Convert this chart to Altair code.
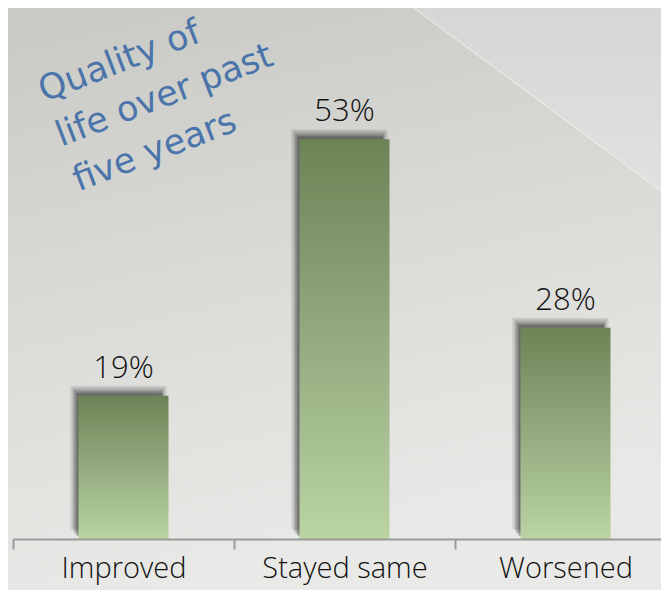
import altair as alt
import pandas as pd

# ---- data ----
CATEGORIES = ["Improved", "Stayed same", "Worsened"]
VALUES = [19, 53, 28]
LABELS = ["19%", "53%", "28%"]
TITLE_LINES = ["Quality of", "life over past", "five years"]

# decorative background triangle (plot pixel coords)
TRI_X = [401, 648]
TRI_Y = [0, 183]
TRI_Y2 = [0, 0]

W, H = 648, 531
STEP = 221

bars_df = pd.DataFrame({"cat": CATEGORIES, "val": VALUES, "lab": LABELS})
tri_df = pd.DataFrame({"x": TRI_X, "y": TRI_Y, "y2": TRI_Y2})
one = pd.DataFrame({"a": [0]})

FONT = "Open Sans"

bg = alt.Chart(one).mark_rect(
    fill=alt.Gradient(
        gradient="linear",
        stops=[
            alt.GradientStop(color="#c8c8c4", offset=0),
            alt.GradientStop(color="#d8d8d5", offset=0.45),
            alt.GradientStop(color="#e9e9e7", offset=1),
        ],
        x1=0, y1=0, x2=0.25, y2=1,
    )
).encode(x=alt.value(-5), x2=alt.value(W), y=alt.value(0), y2=alt.value(H + 51))

tri = alt.Chart(tri_df).mark_area(
    fill=alt.Gradient(
        gradient="linear",
        stops=[
            alt.GradientStop(color="#d6d6d6", offset=0),
            alt.GradientStop(color="#e1e1e1", offset=1),
        ],
        x1=0, y1=0, x2=0, y2=1,
    )
).encode(
    x=alt.X("x:Q", scale=alt.Scale(domain=[0, W], nice=False, zero=False), axis=None),
    y=alt.Y("y:Q", scale=alt.Scale(domain=[0, H], reverse=True, nice=False), axis=None),
    y2="y2:Q",
)
tri_line = alt.Chart(tri_df).mark_line(color="#f2f2e4", strokeWidth=1).encode(
    x=alt.X("x:Q", scale=alt.Scale(domain=[0, W], nice=False, zero=False), axis=None),
    y=alt.Y("y:Q", scale=alt.Scale(domain=[0, H], reverse=True, nice=False), axis=None),
)

xenc = alt.X(
    "cat:N",
    sort=CATEGORIES,
    title=None,
    scale=alt.Scale(range=[0, STEP * 3], paddingInner=0, paddingOuter=0),
    axis=alt.Axis(
        labelAngle=0,
        tickBand="extent",
        domainColor="#9a9a9a",
        domainWidth=2,
        tickColor="#9a9a9a",
        tickWidth=2,
        tickSize=10,
        labelFont=FONT,
        labelFontSize=29,
        labelFontWeight=300,
        labelColor="#111111",
        labelPadding=5,
        labelBaseline="top",
        grid=False,
        zindex=2,
    ),
)
yenc = alt.Y("val:Q", scale=alt.Scale(domain=[0, 70.4], nice=False), axis=None)

base = alt.Chart(bars_df).encode(x=xenc, y=yenc)

shadows = [
    base.mark_bar(color="#1e1e1e", opacity=0.07, size=97, xOffset=-5, yOffset=-10),
    base.mark_bar(color="#1e1e1e", opacity=0.10, size=94, xOffset=-5, yOffset=-9),
    base.mark_bar(color="#1e1e1e", opacity=0.14, size=91, xOffset=-5, yOffset=-7),
    base.mark_bar(color="#1e1e1e", opacity=0.20, size=88, xOffset=-5, yOffset=-5),
    base.mark_bar(color="#1e1e1e", opacity=0.28, size=86, xOffset=-4, yOffset=-3),
]

bars = base.mark_bar(
    size=90,
    fill=alt.Gradient(
        gradient="linear",
        stops=[
            alt.GradientStop(color="#6c8356", offset=0),
            alt.GradientStop(color="#93ab7e", offset=0.5),
            alt.GradientStop(color="#bad4a4", offset=1),
        ],
        x1=0, y1=0, x2=0, y2=1,
    ),
)

text = base.mark_text(
    dy=-18, baseline="alphabetic", font=FONT, fontSize=31, fontWeight=300, color="#111111"
).encode(text="lab:N")

bar_layer = alt.layer(*shadows, bars, text)

title = alt.Chart(one).mark_text(
    font="DejaVu Sans",
    fontSize=35,
    color="#4a74aa",
    angle=339,
    align="left",
    baseline="alphabetic",
    lineHeight=48,
).encode(x=alt.value(31), y=alt.value(94), text=alt.value(TITLE_LINES))

chart = (
    alt.layer(bg, tri, tri_line, bar_layer, title)
    .resolve_scale(x="independent", y="independent")
    .properties(
        width=W,
        height=H,
        autosize=alt.AutoSizeParams(type="none"),
        padding={"left": 5, "top": 0, "right": 0, "bottom": 51},
    )
    .configure_view(stroke=None)
)

chart.save("out.html", embed_options={"renderer": "svg", "actions": False})
